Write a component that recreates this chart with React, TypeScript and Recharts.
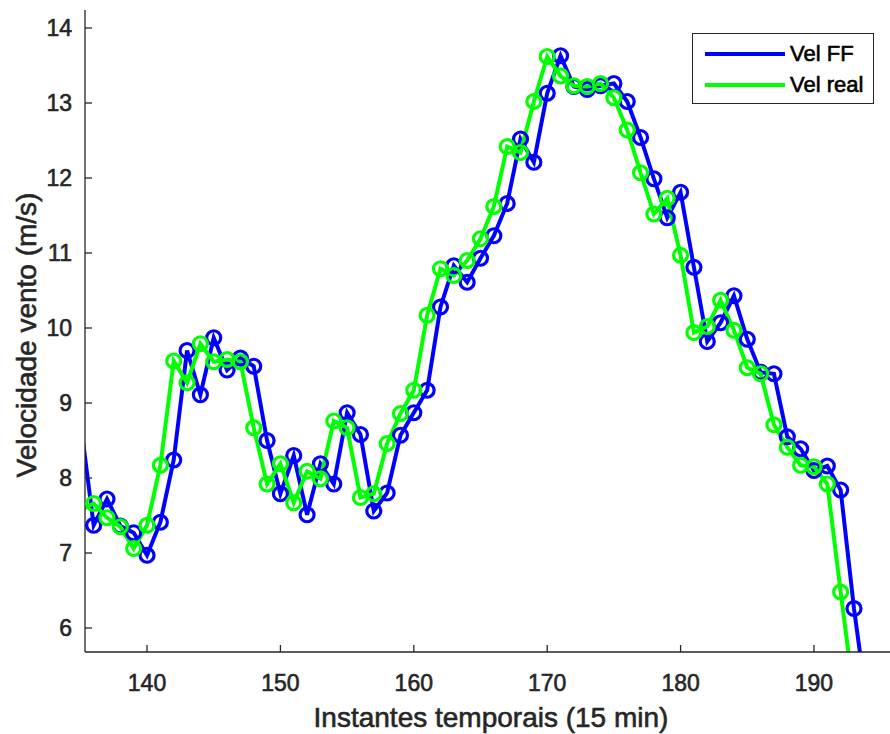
import { LineChart, Line, XAxis, YAxis, Legend } from 'recharts'

// time index (15 min steps)
const instants = [
  135, 136, 137, 138, 139, 140, 141, 142, 143, 144, 145, 146, 147, 148, 149,
  150, 151, 152, 153, 154, 155, 156, 157, 158, 159, 160, 161, 162, 163, 164,
  165, 166, 167, 168, 169, 170, 171, 172, 173, 174, 175, 176, 177, 178, 179,
  180, 181, 182, 183, 184, 185, 186, 187, 188, 189, 190, 191, 192, 193, 194,
]

const velFF = [
  8.77, 7.37, 7.72, 7.36, 7.27, 6.97, 7.41, 8.24, 9.7, 9.11, 9.87, 9.44, 9.6, 9.49, 8.5,
  7.79, 8.3, 7.51, 8.19, 7.92, 8.87, 8.58, 7.56, 7.8, 8.57, 8.87, 9.17, 10.28, 10.83, 10.61,
  10.93, 11.23, 11.66, 12.52, 12.21, 13.13, 13.63, 13.22, 13.18, 13.23, 13.26, 13.02, 12.54, 11.99, 11.47,
  11.81, 10.81, 9.82, 10.07, 10.43, 9.85, 9.41, 9.39, 8.55, 8.39, 8.1, 8.16, 7.84, 6.26, 4.95,
]

const velReal = [
  7.57, 7.66, 7.47, 7.35, 7.06, 7.37, 8.17, 9.56, 9.27, 9.79, 9.55, 9.58, 9.55, 8.67, 7.92,
  8.19, 7.67, 8.09, 7.99, 8.76, 8.67, 7.74, 7.79, 8.46, 8.86, 9.17, 10.17, 10.79, 10.7, 10.9,
  11.19, 11.62, 12.42, 12.34, 13.02, 13.62, 13.36, 13.23, 13.22, 13.26, 13.07, 12.64, 12.07, 11.52, 11.73,
  10.97, 9.94, 10.02, 10.37, 9.97, 9.47, 9.39, 8.71, 8.41, 8.17, 8.15, 7.92, 6.48, 5.1, 4.7,
]

const xTicks = [140, 150, 160, 170, 180, 190]
const yTicks = [6, 7, 8, 9, 10, 11, 12, 13, 14]
const X_DOMAIN = [135.35, 195.7]
const Y_DOMAIN = [5.68, 14.24]

const data = instants.map((t, i) => ({ t, ff: velFF[i], real: velReal[i] }))

const FONT = '"Liberation Sans", Arial, Helvetica, sans-serif'
const AXIS = '#262626'
const BLUE = '#0000ff'
const GREEN = '#00ff00'

// matlab-style: markers whose centre is outside the axes are not drawn
const makeDot = (color: string, key: 'ff' | 'real') => (props: any) => {
  const { cx, cy, payload, index } = props
  const v = payload[key]
  if (payload.t < X_DOMAIN[0] || payload.t > X_DOMAIN[1] || v < Y_DOMAIN[0] || v > Y_DOMAIN[1]) {
    return <g key={`d-${key}-${index}`} />
  }
  return (
    <circle key={`d-${key}-${index}`} cx={cx} cy={cy} r={7} stroke={color} strokeWidth={3.2} fill="none" />
  )
}

function LegendBox({ payload }: any) {
  return (
    <div
      style={{
        width: 180,
        height: 69,
        border: `1.5px solid ${AXIS}`,
        background: '#fff',
        fontFamily: FONT,
        position: 'relative',
      }}
    >
      {(payload || []).map((p: any, i: number) => (
        <div
          key={p.value}
          style={{
            position: 'absolute',
            left: 12,
            top: 6 + i * 31,
            height: 28,
            display: 'flex',
            alignItems: 'center',
          }}
        >
          <svg width={80} height={6}>
            <line x1={0} y1={3} x2={80} y2={3} stroke={p.color} strokeWidth={4} />
          </svg>
          <span style={{ marginLeft: 5, fontSize: 22, color: '#000', WebkitTextStroke: '0.6px #000' }}>
            {p.value}
          </span>
        </div>
      ))}
    </div>
  )
}

export default function App() {
  return (
    <div style={{ position: 'absolute', left: 0, top: 0, width: 890, height: 734, background: '#fff' }}>
      <LineChart width={890} height={734} data={data} margin={{ top: 10, right: 0, left: 0, bottom: 0 }}>
        <XAxis
          dataKey="t"
          type="number"
          domain={X_DOMAIN}
          allowDataOverflow
          ticks={xTicks}
          height={82}
          tickSize={-7}
          tickMargin={30}
          stroke={AXIS}
          strokeWidth={1.3}
          tick={{ fill: AXIS, stroke: AXIS, strokeWidth: 0.6, fontSize: 23, fontFamily: FONT }}
          label={{
            content: () => (
              <text
                x={491}
                y={727}
                textAnchor="middle"
                fill={AXIS}
                stroke={AXIS}
                strokeWidth={0.6}
                fontSize={28}
                fontFamily={FONT}
              >
                Instantes temporais (15 min)
              </text>
            ),
          }}
        />
        <YAxis
          type="number"
          domain={Y_DOMAIN}
          allowDataOverflow
          ticks={yTicks}
          width={85}
          tickSize={-7}
          tickMargin={20}
          stroke={AXIS}
          strokeWidth={1.3}
          tick={{ fill: AXIS, stroke: AXIS, strokeWidth: 0.6, fontSize: 23, fontFamily: FONT }}
          label={{
            content: () => (
              <text
                x={0}
                y={0}
                transform="translate(36,335) rotate(-90)"
                textAnchor="middle"
                fill={AXIS}
                stroke={AXIS}
                strokeWidth={0.6}
                fontSize={28}
                fontFamily={FONT}
              >
                Velocidade vento (m/s)
              </text>
            ),
          }}
        />
        <Legend
          layout="vertical"
          verticalAlign="middle"
          align="center"
          content={<LegendBox />}
          wrapperStyle={{ position: 'absolute', left: 692, top: 33, width: 183, height: 72 }}
        />
        <Line
          type="linear"
          dataKey="ff"
          name="Vel FF"
          stroke={BLUE}
          strokeWidth={4}
          dot={makeDot(BLUE, 'ff')}
          activeDot={false}
          isAnimationActive={false}
        />
        <Line
          type="linear"
          dataKey="real"
          name="Vel real"
          stroke={GREEN}
          strokeWidth={4}
          dot={makeDot(GREEN, 'real')}
          activeDot={false}
          isAnimationActive={false}
        />
      </LineChart>
    </div>
  )
}
